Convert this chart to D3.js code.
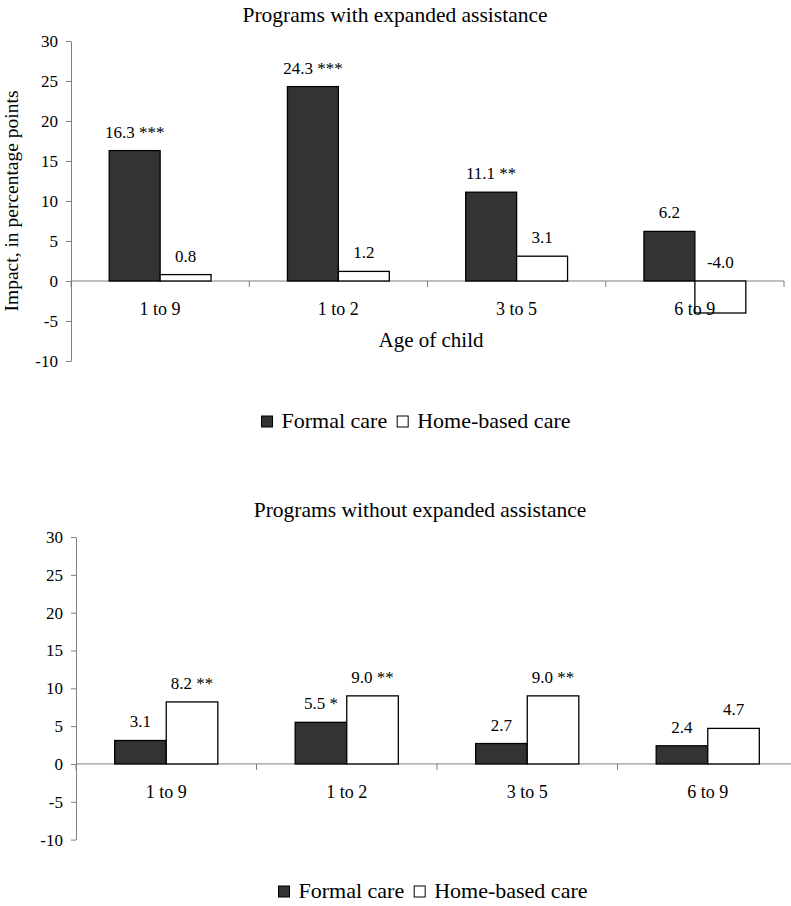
<html>
<head>
<meta charset="utf-8">
<title>Impacts on child care use by age of child</title>
<script src="https://cdn.jsdelivr.net/npm/d3@7"></script>
<style>
  body { margin: 0; background: #fff; }
  text { font-family: "Liberation Serif", "Times New Roman", serif; fill: #000; }
</style>
</head>
<body>
<svg id="chart" width="791" height="906"></svg>
<script>

// categories and series
var ageGroups = ["1 to 9", "1 to 2", "3 to 5", "6 to 9"]
var seriesNames = ["Formal care", "Home-based care"]
var yTicks = [-10, -5, 0, 5, 10, 15, 20, 25, 30]

// programs with expanded assistance
var withFormal = [16.3, 24.3, 11.1, 6.2]
var withFormalSig = ["***", "***", "**", ""]
var withHome = [0.8, 1.2, 3.1, -4.0]
var withHomeSig = ["", "", "", ""]

// programs without expanded assistance
var withoutFormal = [3.1, 5.5, 2.7, 2.4]
var withoutFormalSig = ["", "*", "", ""]
var withoutHome = [8.2, 9.0, 9.0, 4.7]
var withoutHomeSig = ["**", "**", "**", ""]

var fills = ["#333333", "#ffffff"]
var svg = d3.select("#chart")

function drawPanel(opt) {
  var g = svg.append("g")

  var x = d3.scaleBand().domain(ageGroups).range([opt.left, opt.right])
  var xs = d3.scaleBand().domain(seriesNames).range([0, x.bandwidth()])
    .paddingInner(0).paddingOuter(0.75)
  var y = d3.scaleLinear().domain([-10, 30]).range([opt.bottom, opt.top])

  // one record per bar
  var bars = []
  ageGroups.forEach(function (a, i) {
    bars.push({ age: a, s: seriesNames[0], v: opt.formal[i], sig: opt.formalSig[i], k: 0 })
    bars.push({ age: a, s: seriesNames[1], v: opt.home[i], sig: opt.homeSig[i], k: 1 })
  })

  // zero line and category dividers
  g.append("line")
    .attr("x1", opt.left).attr("x2", opt.right)
    .attr("y1", y(0)).attr("y2", y(0))
    .attr("stroke", "#7f7f7f").attr("stroke-width", 1)
  var dividers = ageGroups.map(function (a) { return x(a) }).concat([x.range()[1]])
  g.selectAll(".div").data(dividers).enter().append("line")
    .attr("x1", function (d) { return d }).attr("x2", function (d) { return d })
    .attr("y1", y(0)).attr("y2", y(0) + 6)
    .attr("stroke", "#7f7f7f")

  // bars
  g.selectAll("rect.bar").data(bars).enter().append("rect")
    .attr("class", "bar")
    .attr("x", function (d) { return x(d.age) + xs(d.s) })
    .attr("width", xs.bandwidth())
    .attr("y", function (d) { return y(Math.max(0, d.v)) })
    .attr("height", function (d) { return Math.abs(y(d.v) - y(0)) })
    .attr("fill", function (d) { return fills[d.k] })
    .attr("stroke", "#000").attr("stroke-width", 1.3)

  // value labels
  g.selectAll("text.val").data(bars).enter().append("text")
    .attr("class", "val")
    .attr("x", function (d) { return x(d.age) + xs(d.s) + xs.bandwidth() / 2 })
    .attr("y", function (d) { return y(Math.max(0, d.v)) - 13 })
    .attr("text-anchor", "middle")
    .attr("font-size", 17)
    .text(function (d) { return d.v.toFixed(1) + (d.sig ? " " + d.sig : "") })

  // category labels
  g.selectAll("text.cat").data(ageGroups).enter().append("text")
    .attr("class", "cat")
    .attr("x", function (d) { return x(d) + x.bandwidth() / 2 })
    .attr("y", y(0) + 34)
    .attr("text-anchor", "middle")
    .attr("font-size", 18)
    .text(String)

  // y axis
  var yAxis = g.append("g")
    .attr("transform", "translate(" + opt.left + ",0)")
    .call(d3.axisLeft(y).tickValues(yTicks).tickSize(5).tickSizeOuter(0).tickPadding(8)
      .tickFormat(function (d) { return String(d) }))
  yAxis.select(".domain").attr("stroke", "#7f7f7f")
  yAxis.selectAll(".tick line").attr("stroke", "#7f7f7f")
  yAxis.selectAll(".tick text")
    .attr("font-size", 17).attr("fill", "#000")

  // title
  g.append("text")
    .attr("x", opt.titleX).attr("y", opt.titleY)
    .attr("text-anchor", "middle").attr("font-size", 21.5)
    .text(opt.title)

  if (opt.xTitle) {
    g.append("text")
      .attr("x", opt.xTitleX).attr("y", opt.xTitleY)
      .attr("text-anchor", "middle").attr("font-size", 21)
      .text(opt.xTitle)
  }
  if (opt.yTitle) {
    g.append("text")
      .attr("transform", "translate(" + opt.yTitleX + "," + ((opt.top + opt.bottom) / 2) + ") rotate(-90)")
      .attr("text-anchor", "middle").attr("font-size", 19.5)
      .text(opt.yTitle)
  }

  // legend
  var leg = g.append("g")
  var lx = 0
  seriesNames.forEach(function (s, i) {
    leg.append("rect")
      .attr("x", lx).attr("y", -11).attr("width", 11).attr("height", 11)
      .attr("fill", fills[i]).attr("stroke", "#000").attr("stroke-width", 1)
    var t = leg.append("text")
      .attr("x", lx + 20).attr("y", 1)
      .attr("font-size", 22)
      .text(s)
    lx += 20 + t.node().getComputedTextLength() + 10
  })
  var lw = lx - 10
  leg.attr("transform", "translate(" + (opt.legendCx - lw / 2) + "," + opt.legendY + ")")
}

drawPanel({
  left: 71, right: 784, top: 41, bottom: 361,
  formal: withFormal, formalSig: withFormalSig,
  home: withHome, homeSig: withHomeSig,
  title: "Programs with expanded assistance", titleX: 395, titleY: 22,
  xTitle: "Age of child", xTitleX: 431, xTitleY: 347,
  yTitle: "Impact, in percentage points", yTitleX: 18,
  legendCx: 416, legendY: 427
})

drawPanel({
  left: 76, right: 798, top: 537, bottom: 839.6,
  formal: withoutFormal, formalSig: withoutFormalSig,
  home: withoutHome, homeSig: withoutHomeSig,
  title: "Programs without expanded assistance", titleX: 420, titleY: 517,
  legendCx: 433, legendY: 897
})

</script>
</body>
</html>
